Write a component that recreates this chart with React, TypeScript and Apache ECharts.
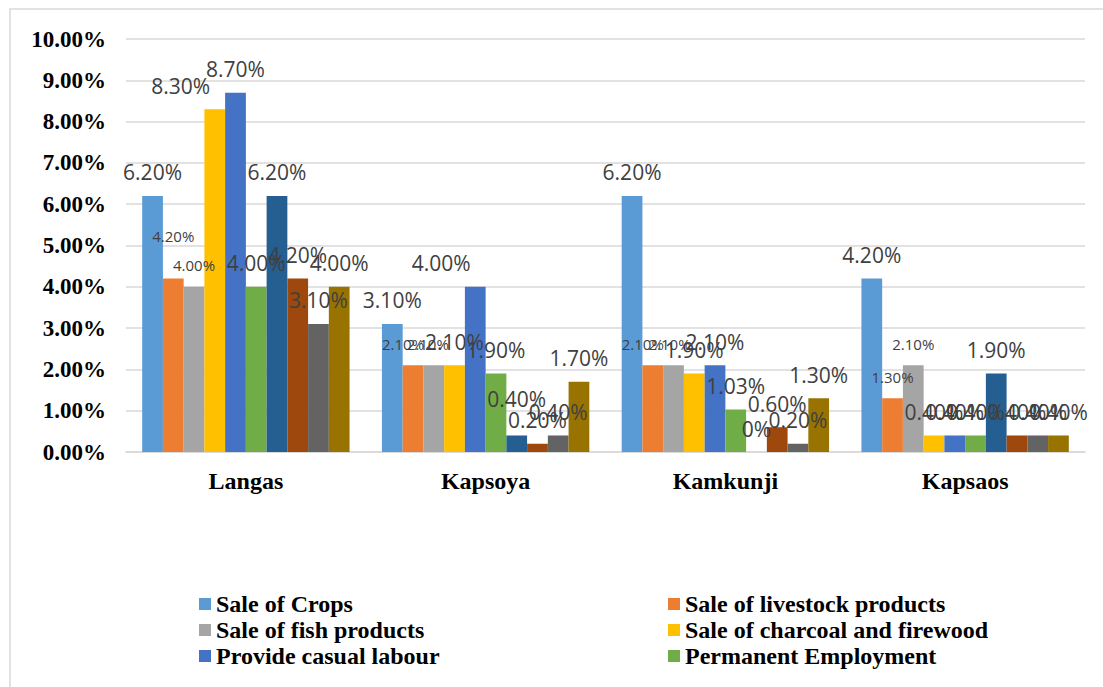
import React, { useEffect, useRef } from "react";
import * as echarts from "echarts";

const categories = ["Langas", "Kapsoya", "Kamkunji", "Kapsaos"];
const seriesNames = [
  "Sale of Crops",
  "Sale of livestock products",
  "Sale of fish products",
  "Sale of charcoal and firewood",
  "Provide casual labour",
  "Permanent Employment",
  "Series 7",
  "Series 8",
  "Series 9",
  "Series 10",
];
const saleOfCrops = [6.2, 3.1, 6.2, 4.2];
const saleOfLivestock = [4.2, 2.1, 2.1, 1.3];
const saleOfFish = [4.0, 2.1, 2.1, 2.1];
const saleOfCharcoal = [8.3, 2.1, 1.9, 0.4];
const casualLabour = [8.7, 4.0, 2.1, 0.4];
const permanentEmployment = [4.0, 1.9, 1.03, 0.4];
const series7 = [6.2, 0.4, 0, 1.9];
const series8 = [4.2, 0.2, 0.6, 0.4];
const series9 = [3.1, 0.4, 0.2, 0.4];
const series10 = [4.0, 1.7, 1.3, 0.4];
const yTicks = [0, 1, 2, 3, 4, 5, 6, 7, 8, 9, 10];

const allValues = [
  saleOfCrops,
  saleOfLivestock,
  saleOfFish,
  saleOfCharcoal,
  casualLabour,
  permanentEmployment,
  series7,
  series8,
  series9,
  series10,
];
const colors = [
  "#5B9BD5",
  "#ED7D31",
  "#A5A5A5",
  "#FFC000",
  "#4472C4",
  "#70AD47",
  "#255E91",
  "#9E480E",
  "#636363",
  "#997300",
];
// label style tweaks: key "series-category" -> offset
const labelOffsets: Record<string, number[]> = {
  "3-0": [-34, 0],
  "1-0": [0, -21],
  "4-1": [-34, 0],
  "6-1": [0, -13],
  "1-1": [-10, 0],
  "2-1": [-6, 0],
  "1-2": [-10, 0],
  "2-2": [-4, 0],
};
const smallLabelSeries = [1, 2];

const fmt = (v: number) => (v === 0 ? "0%" : v.toFixed(2) + "%");

export default function App() {
  const ref = useRef<HTMLDivElement>(null);
  useEffect(() => {
    if (!ref.current) return;
    const chart = echarts.init(ref.current, null, { renderer: "svg" });
    const serif = "'Liberation Serif', 'Times New Roman', serif";
    const series = allValues.map((vals, si) => {
      const small = smallLabelSeries.includes(si);
      return {
        name: seriesNames[si],
        type: "bar",
        barGap: "0%",
        barCategoryGap: "13.5%",
        itemStyle: { color: colors[si] },
        label: {
          show: true,
          position: "top",
          distance: small ? 14 : 13,
          color: "#404040",
          fontFamily: "'Open Sans', sans-serif",
          fontSize: small ? 15 : 21,
          formatter: (p: any) => fmt(p.value),
        },
        data: vals.map((v, ci) => {
          const off = labelOffsets[`${si}-${ci}`];
          return off ? { value: v, label: { offset: off } } : v;
        }),
      };
    });
    const legendBase = {
      orient: "vertical",
      icon: "rect",
      itemWidth: 12,
      itemHeight: 12,
      itemGap: 2,
      textStyle: {
        fontFamily: serif,
        fontWeight: "bold",
        fontSize: 24,
        lineHeight: 22,
        color: "#000",
      },
    };
    chart.setOption({
      animation: false,
      backgroundColor: "#fff",
      grid: { left: 126, right: 18, top: 39, bottom: 235, containLabel: false },
      graphic: [
        {
          type: "rect",
          shape: { x: 10, y: 9, width: 1110, height: 700 },
          style: { fill: "none", stroke: "#d9d9d9", lineWidth: 1.5 },
          silent: true,
        },
      ],
      legend: [
        {
          ...legendBase,
          left: 194,
          top: 587,
          data: [seriesNames[0], seriesNames[2], seriesNames[4]],
        },
        {
          ...legendBase,
          left: 663,
          top: 587,
          data: [seriesNames[1], seriesNames[3], seriesNames[5]],
        },
      ],
      xAxis: {
        type: "category",
        data: categories,
        axisLine: { lineStyle: { color: "#d9d9d9", width: 1.5 } },
        axisTick: { show: false },
        axisLabel: {
          fontFamily: serif,
          fontWeight: "bold",
          fontSize: 24,
          color: "#000",
          margin: 17,
        },
      },
      yAxis: {
        type: "value",
        min: yTicks[0],
        max: yTicks[yTicks.length - 1],
        interval: 1,
        axisLine: { show: false },
        axisTick: { show: false },
        splitLine: { lineStyle: { color: "#d9d9d9", width: 1.5 } },
        axisLabel: {
          fontFamily: serif,
          fontWeight: "bold",
          fontSize: 23,
          color: "#000",
          margin: 20,
          formatter: (v: number) => v.toFixed(2) + "%",
        },
      },
      series,
    });
    return () => chart.dispose();
  }, []);
  return (
    <div
      ref={ref}
      style={{ position: "fixed", left: 0, top: 0, width: 1103, height: 687 }}
    />
  );
}
